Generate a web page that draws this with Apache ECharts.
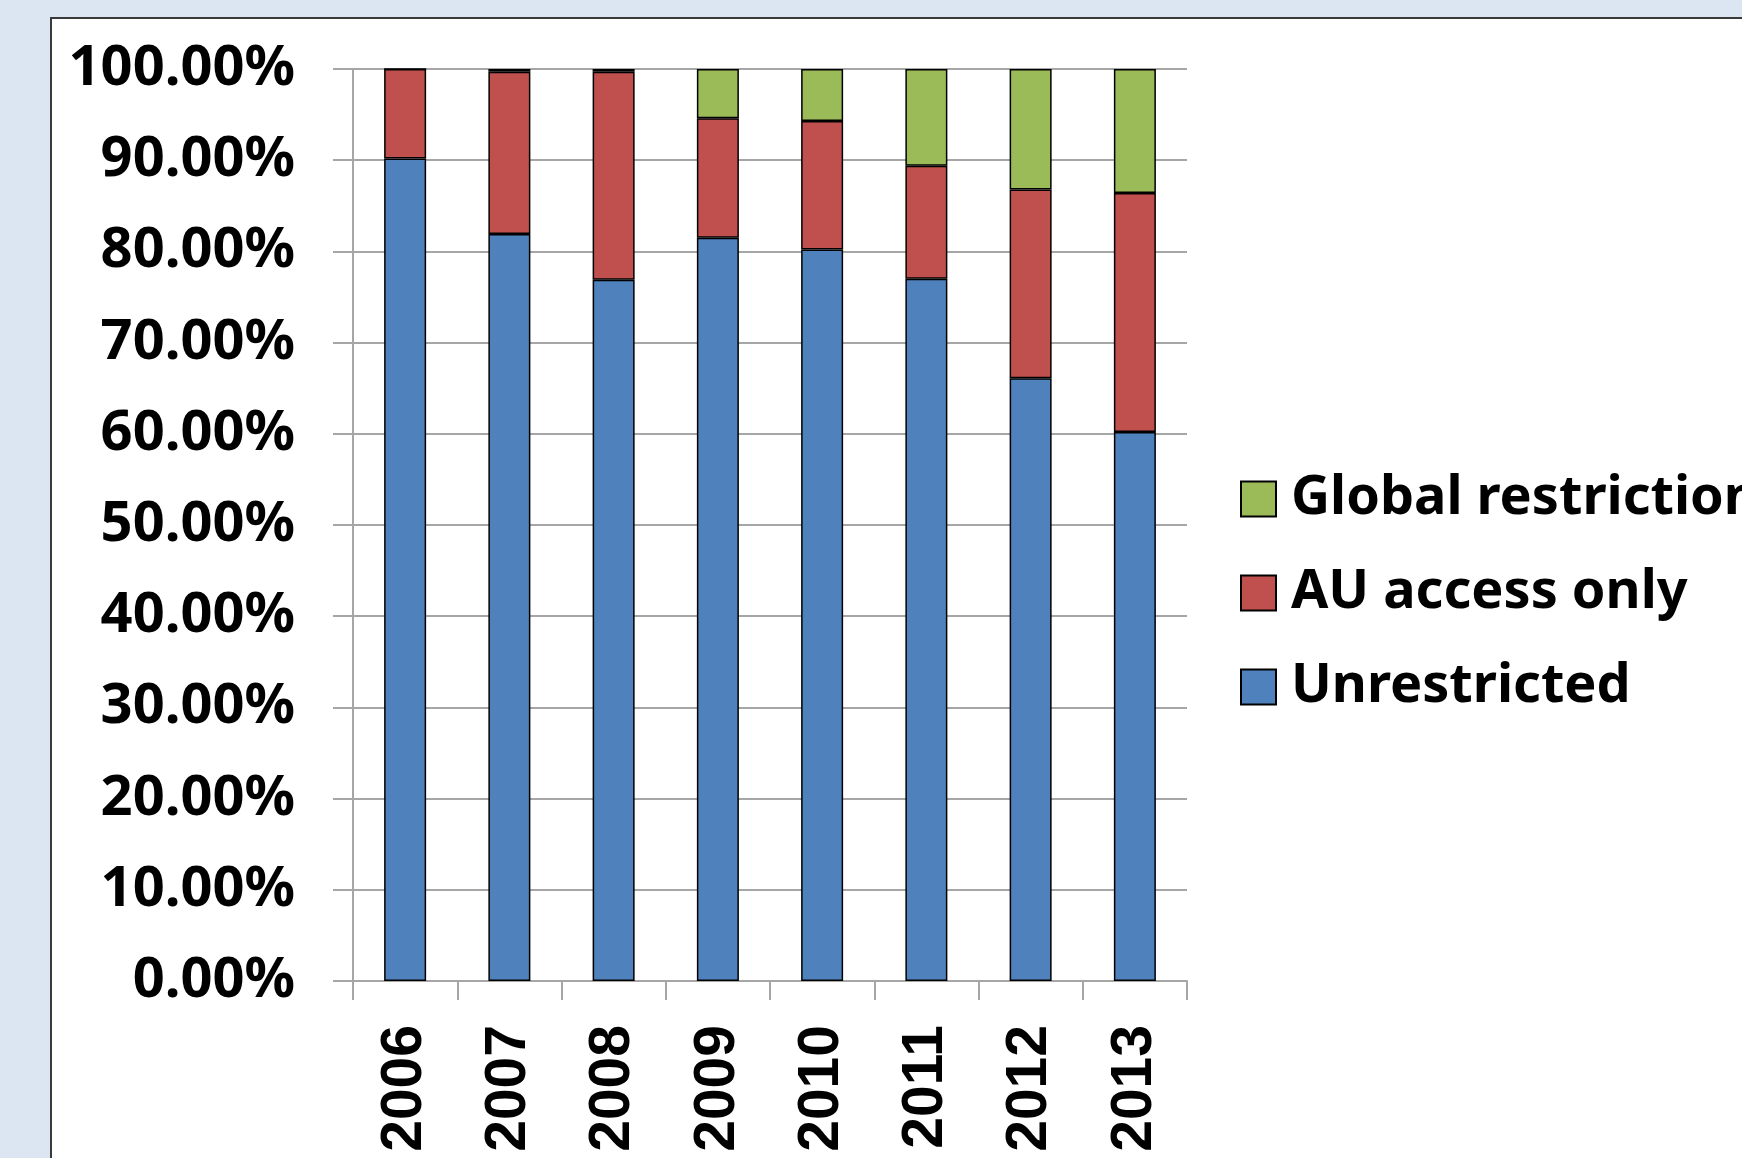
<!DOCTYPE html>
<html>
<head>
<meta charset="utf-8">
<script src="https://cdn.jsdelivr.net/npm/echarts@6/dist/echarts.min.js"></script>
<style>
  html, body { margin: 0; padding: 0; background: #dce6f2; overflow: hidden; }
  #panel {
    position: absolute; left: 50px; top: 17px; width: 1800px; height: 1300px;
    background: #fff; border: 2px solid #3a3a3a;
  }
  #chart { position: absolute; left: 0; top: 0; width: 1742px; height: 1158px; }
</style>
</head>
<body>
<div id="panel"></div>
<div id="chart"></div>
<script>
const years = ['2006', '2007', '2008', '2009', '2010', '2011', '2012', '2013']
const unrestricted = [90.2, 81.9, 76.9, 81.5, 80.2, 77.0, 66.1, 60.2]
const auAccessOnly = [9.8, 17.8, 22.8, 13.1, 14.1, 12.4, 20.7, 26.2]
const globalRestriction = [0, 0.3, 0.3, 5.4, 5.7, 10.6, 13.2, 13.6]
const yTicks = { min: 0, max: 100, interval: 10 }

const gridGray = '#a6a6a6'
const labelFont = { color: '#000', fontWeight: 'bold', fontFamily: 'Noto Sans', fontSize: 56 }

function barSeries(name, data, color) {
  return {
    name,
    type: 'bar',
    stack: 'total',
    data,
    barWidth: 42,
    itemStyle: { color, borderColor: '#000', borderWidth: 1.5 },
  }
}

const chart = echarts.init(document.getElementById('chart'))
chart.setOption({
  animation: false,
  backgroundColor: 'transparent',
  grid: { left: 353, right: 555, top: 69, bottom: 177 },
  xAxis: {
    type: 'category',
    data: years,
    axisLine: { lineStyle: { color: gridGray, width: 2 } },
    axisTick: { show: true, length: 19, lineStyle: { color: gridGray, width: 2 } },
    axisLabel: {
      rotate: 90,
      margin: 44,
      color: '#000',
      fontWeight: 'bold',
      fontFamily: 'Liberation Sans',
      fontSize: 57,
    },
  },
  yAxis: {
    type: 'value',
    ...yTicks,
    axisLine: { show: true, lineStyle: { color: gridGray, width: 2 } },
    axisTick: { show: true, length: 20, lineStyle: { color: gridGray, width: 2 } },
    splitLine: { lineStyle: { color: gridGray, width: 2 } },
    axisLabel: {
      ...labelFont,
      margin: 58,
      formatter: (v) => v.toFixed(2) + '%',
    },
  },
  legend: {
    orient: 'vertical',
    left: 1240,
    top: 472,
    padding: 0,
    itemWidth: 35,
    itemHeight: 35,
    itemGap: 40,
    icon: 'rect',
    data: ['Global restriction', 'AU access only', 'Unrestricted'],
    textStyle: { ...labelFont, fontSize: 54, padding: [0, 0, 0, 10] },
  },
  series: [
    barSeries('Unrestricted', unrestricted, '#4f81bd'),
    barSeries('AU access only', auAccessOnly, '#c0504d'),
    barSeries('Global restriction', globalRestriction, '#9bbb59'),
  ],
})
</script>
</body>
</html>
